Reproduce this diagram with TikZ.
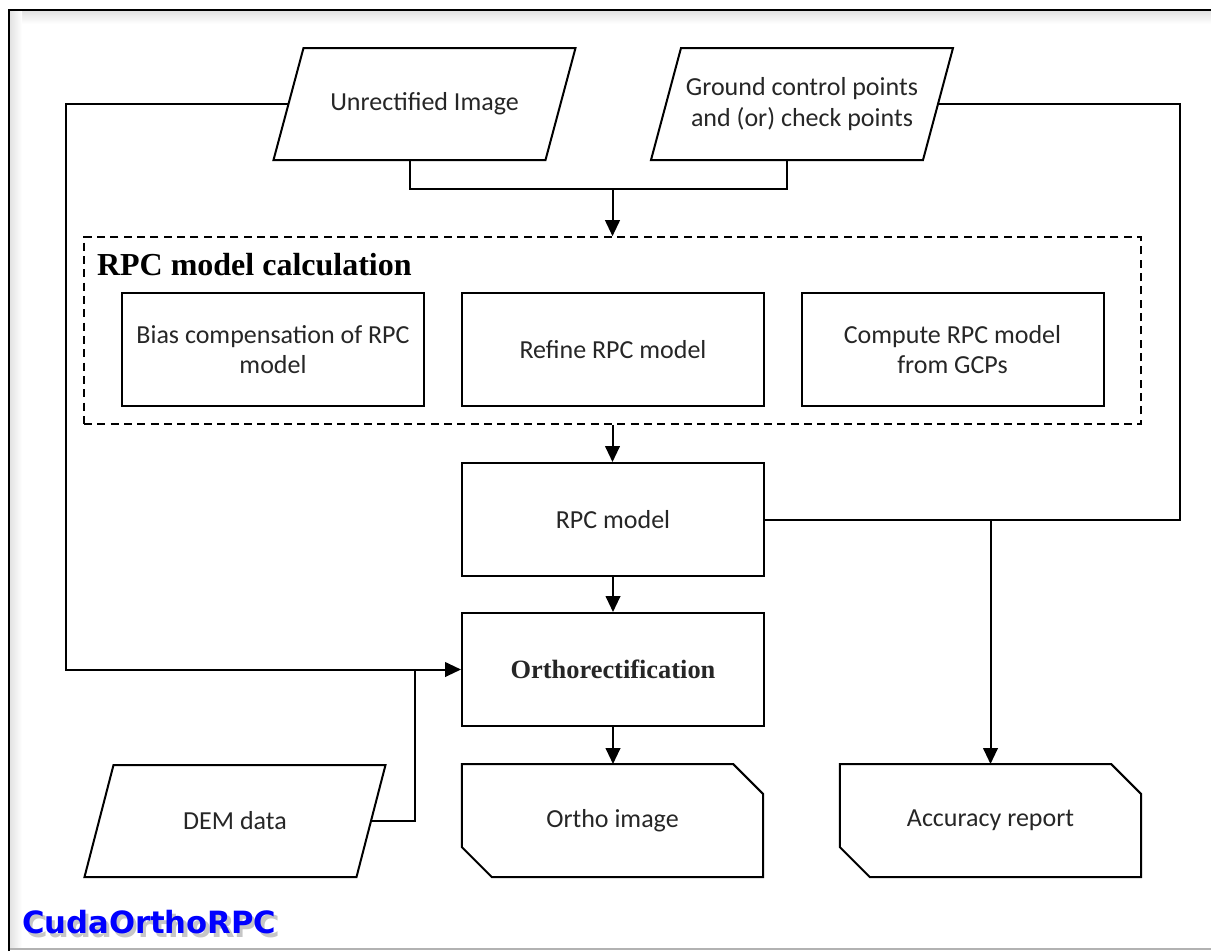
\documentclass[tikz,border=0pt]{standalone}
\usepackage{fontspec}
\setmainfont{Carlito}
\newfontfamily\titlefont{Liberation Serif}
\newfontfamily\logofont{DejaVu Sans}
\usetikzlibrary{calc,arrows.meta}
\newcommand\drawpara[2]{\draw ($(#1.north west)+(#2,0)$) -- ($(#1.north east)+(#2,0)$) -- ($(#1.south east)+(-#2,0)$) -- ($(#1.south west)+(-#2,0)$) -- cycle;}
\newcommand\drawdoc[1]{\draw (#1.north west) -- ($(#1.north east)+(-30,0)$) -- ($(#1.north east)+(0,30)$) -- (#1.south east) -- ($(#1.south west)+(30,0)$) -- ($(#1.south west)+(0,-30)$) -- cycle;}
\begin{document}
\begin{tikzpicture}[x=0.75pt,y=-0.75pt,line width=1.5pt,
  txt/.style={font=\fontsize{19.5}{23}\selectfont, align=center, text=black!85},
  para/.style={txt, rectangle, draw=none, outer sep=0pt, minimum width=204pt, minimum height=84pt},
  box/.style={txt, rectangle, draw, minimum width=226.5pt, minimum height=84.75pt},
  docbox/.style={txt, rectangle, draw=none, outer sep=0pt, minimum width=226pt, minimum height=84.75pt},
  calcbox/.style={rectangle, draw, dash pattern=on 6pt off 4pt, line width=1.2pt, minimum width=792.75pt, minimum height=140.25pt},
  arr/.style={-{Triangle[length=12pt,width=11pt]}},
  boldserif/.style={font=\titlefont\bfseries\fontsize{19.8}{24}\selectfont}]
\useasboundingbox (0,0) rectangle (1211,951);
% frame
\fill[top color=gray!22, bottom color=white] (10,11) rectangle (1211,24);
\fill[left color=gray!22, right color=white] (10,11) rectangle (22,948);
\draw[gray!60, line width=1pt] (9,949) -- (1211,949);
\draw[line width=2.2pt] (9,951) -- (9,10) -- (1211,10);
% nodes
\node[para] (u) at (424.5,104) {Unrectified Image};
\node[para] (g) at (802,104) {Ground control points\\and (or) check points};
\node[para] (dem) at (235,821) {DEM data};
\drawpara{u}{15}
\drawpara{g}{15}
\drawpara{dem}{14.5}
\node[calcbox] (rpccalc) at (612.5,330.5) {};
\node[anchor=base west, inner sep=0pt, font=\titlefont\bfseries\fontsize{24}{28}\selectfont] (title) at (96,275) {RPC model calculation};
\node[box] (b1) at (273,349.5) {Bias compensation of RPC\\model};
\node[box] (b2) at (613,349.5) {Refine RPC model};
\node[box] (b3) at (952.5,349.5) {Compute RPC model\\from GCPs};
\node[box] (rpc) at (613,519.5) {RPC model};
\node[box, boldserif] (ortho) at (613,669.5) {Orthorectification};
\node[docbox] (oi) at (612.5,820.5) {Ortho image};
\node[docbox] (acc) at (990.5,820.5) {Accuracy report};
\drawdoc{oi}
\drawdoc{acc}
% connectors
\coordinate (j) at (612.5,189);
\draw ($(u.south)+(-15,0)$) |- (j) -| ($(g.south)+(-15,0)$);
\draw[arr] (j) -- (rpccalc.north);
\draw[arr] (rpccalc.south) -- (rpccalc.south |- rpc.north);
\draw[arr] (rpc) -- (ortho);
\draw[arr] (ortho) -- (ortho.south |- oi.north);
\coordinate (rc) at (1180,519.5);
\coordinate (rt) at (1180,104);
\draw (rpc.east) -- (rc) -- (rt) -- (g.east);
\coordinate (ra) at (990.5,519.5);
\draw[arr] (ra) -- (acc.north);
\coordinate (lt) at (66,104);
\coordinate (lb) at (66,669.5);
\draw[arr] (u.west) -- (lt) -- (lb) -- (ortho.west);
\coordinate (dr) at (415,821);
\draw (dem.east) -- (dr) -- (dr |- ortho.west);
% logo
\node[anchor=base west, inner sep=0pt, font=\logofont\bfseries\fontsize{23}{23}\selectfont] (logo) at (21,933) {\makebox[0pt][l]{\hspace{2.6pt}\raisebox{-3pt}{\textcolor{gray!45}{CudaOrthoRPC}}}\textcolor{blue}{CudaOrthoRPC}};
\end{tikzpicture}
\end{document}
